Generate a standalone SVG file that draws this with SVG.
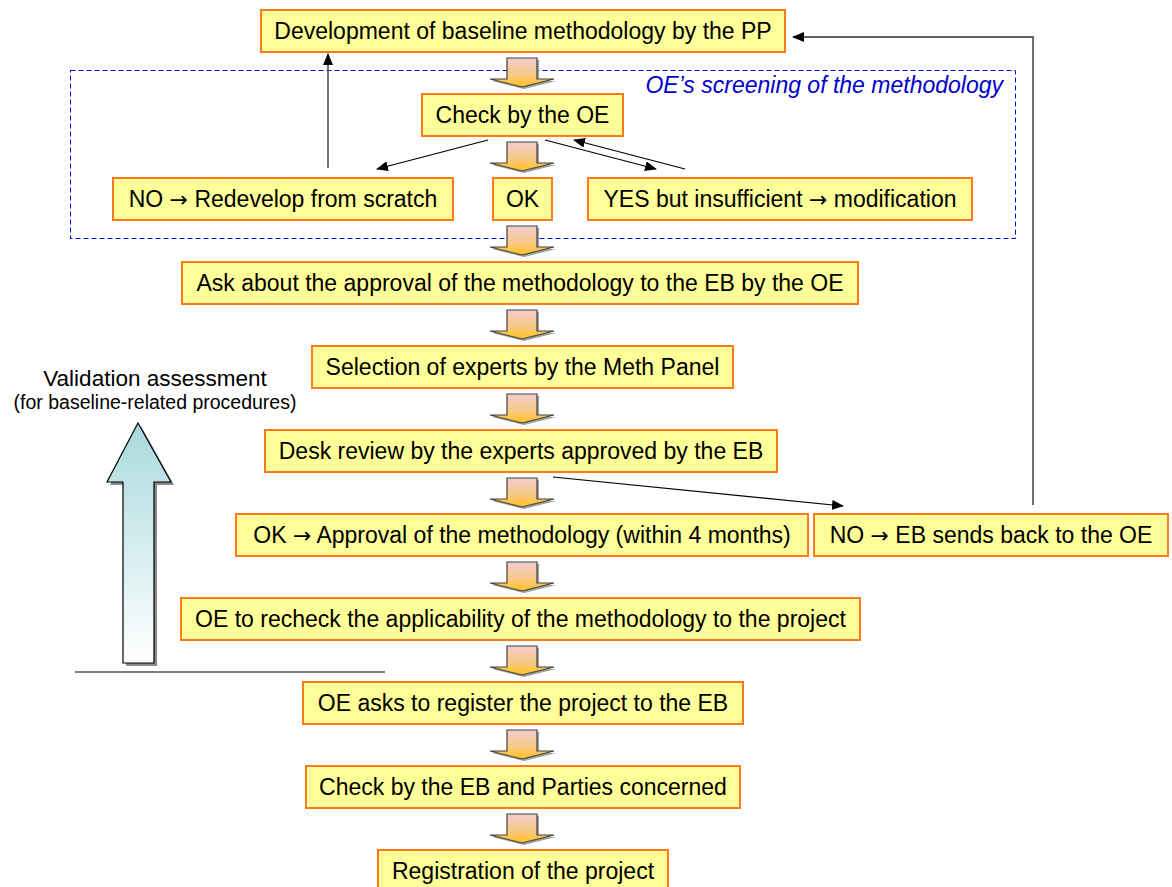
<svg xmlns="http://www.w3.org/2000/svg" width="1172" height="887" viewBox="0 0 1172 887">
<style>
.box{fill:#ffff99;stroke:#ff7a1a;stroke-width:2}
.t{font-family:"Liberation Sans",Arial,sans-serif;font-size:23px;fill:#000;text-anchor:middle}
.ar{font-family:"DejaVu Sans",sans-serif;font-size:22px}
.lbl{font-family:"Liberation Sans",Arial,sans-serif;font-size:23px;font-style:italic;fill:#0000cc;text-anchor:end}
.c{fill:none;stroke:#000;stroke-width:1.2}
.cg{fill:none;stroke:#606060;stroke-width:1.8}
.va{font-family:"Liberation Sans",Arial,sans-serif;fill:#000;text-anchor:middle}
</style>
<defs>
<linearGradient id="gd" x1="0" y1="0" x2="0" y2="1">
<stop offset="0" stop-color="#f2cccc"/>
<stop offset="0.55" stop-color="#f8c98a"/>
<stop offset="1" stop-color="#ffc21f"/>
</linearGradient>
<linearGradient id="gu" x1="0" y1="0" x2="0" y2="1">
<stop offset="0" stop-color="#a9d9dd"/>
<stop offset="1" stop-color="#ffffff"/>
</linearGradient>
<path id="darr" d="M-15,0 H15 V21 H32 L0,29 L-32,21 H-15 Z"/>
<g id="down">
<use href="#darr" x="2" y="2" fill="#a0a0a0"/>
<use href="#darr" fill="url(#gd)" stroke="#404040" stroke-width="1.2"/>
</g>
<marker id="ah" markerUnits="userSpaceOnUse" markerWidth="12" markerHeight="10" refX="11" refY="5" orient="auto">
<path d="M0,0 L12,5 L0,10 Z" fill="#000"/>
</marker>
</defs>

<g id="screening">
<rect x="70.5" y="70.5" width="945" height="168" fill="none" stroke="#0000ee" stroke-width="1" stroke-dasharray="5 3"/>
<text class="lbl" x="1003" y="93">OE’s screening of the methodology</text>
</g>

<g id="block-arrows">
<use href="#down" x="522" y="58"/>
<use href="#down" x="522" y="142"/>
<use href="#down" x="522" y="226"/>
<use href="#down" x="522" y="310"/>
<use href="#down" x="522" y="394"/>
<use href="#down" x="522" y="478"/>
<use href="#down" x="522" y="562"/>
<use href="#down" x="522" y="646"/>
<use href="#down" x="522" y="730"/>
<use href="#down" x="522" y="814"/>
</g>

<g id="connectors">
<path class="cg" d="M328,168 V54" marker-end="url(#ah)"/>
<path class="c" d="M488,140 L377,169" marker-end="url(#ah)"/>
<path class="c" d="M545,140 L656,169" marker-end="url(#ah)"/>
<path class="c" d="M685,169 L574,140" marker-end="url(#ah)"/>
<path class="c" d="M553,477 L843,506" marker-end="url(#ah)"/>
<path class="cg" d="M1033,505 V37 H793" marker-end="url(#ah)"/>
</g>

<g id="n-develop"><rect class="box" x="261" y="10" width="524" height="42"/><text class="t" x="523" y="39">Development of baseline methodology by the PP</text></g>
<g id="n-check-oe"><rect class="box" x="422" y="94" width="201" height="42"/><text class="t" x="522.5" y="123">Check by the OE</text></g>
<g id="n-no-redevelop"><rect class="box" x="113" y="178" width="340" height="42"/><text class="t" x="283" y="207">NO <tspan class="ar">→</tspan> Redevelop from scratch</text></g>
<g id="n-ok"><rect class="box" x="493" y="178" width="59" height="42"/><text class="t" x="522.5" y="207">OK</text></g>
<g id="n-yes"><rect class="box" x="588" y="178" width="384" height="42"/><text class="t" x="780" y="207">YES but insufficient <tspan class="ar">→</tspan> modification</text></g>
<g id="n-ask"><rect class="box" x="182" y="262" width="676" height="42"/><text class="t" x="520" y="291">Ask about the approval of the methodology to the EB by the OE</text></g>
<g id="n-selection"><rect class="box" x="312" y="346" width="421" height="42"/><text class="t" x="522.5" y="375">Selection of experts by the Meth Panel</text></g>
<g id="n-desk"><rect class="box" x="265" y="430" width="512" height="42"/><text class="t" x="521" y="459">Desk review by the experts approved by the EB</text></g>
<g id="n-approval"><rect class="box" x="236" y="514" width="572" height="42"/><text class="t" x="522" y="543">OK <tspan class="ar">→</tspan> Approval of the methodology (within 4 months)</text></g>
<g id="n-sendback"><rect class="box" x="814" y="514" width="354" height="42"/><text class="t" x="991" y="543">NO <tspan class="ar">→</tspan> EB sends back to the OE</text></g>
<g id="n-recheck"><rect class="box" x="181" y="598" width="679" height="42"/><text class="t" x="520.5" y="627">OE to recheck the applicability of the methodology to the project</text></g>
<g id="n-register-ask"><rect class="box" x="303" y="682" width="440" height="42"/><text class="t" x="523" y="711">OE asks to register the project to the EB</text></g>
<g id="n-check-eb"><rect class="box" x="306" y="766" width="434" height="42"/><text class="t" x="523" y="795">Check by the EB and Parties concerned</text></g>
<g id="n-registration"><rect class="box" x="378" y="850" width="290" height="42"/><text class="t" x="523" y="879">Registration of the project</text></g>

<g id="validation">
<path d="M138,423 L171,482 H154 V663 H123 V482 H107 Z" transform="translate(3,3)" fill="#8a8a8a"/>
<path d="M138,423 L171,482 H154 V663 H123 V482 H107 Z" fill="url(#gu)" stroke="#000" stroke-width="1.2"/>
<line x1="75" y1="672" x2="385" y2="672" stroke="#000" stroke-width="1.2"/>
<text class="va" x="155" y="386" font-size="22.5">Validation assessment</text>
<text class="va" x="155" y="409" font-size="19.5">(for baseline-related procedures)</text>
</g>
</svg>
